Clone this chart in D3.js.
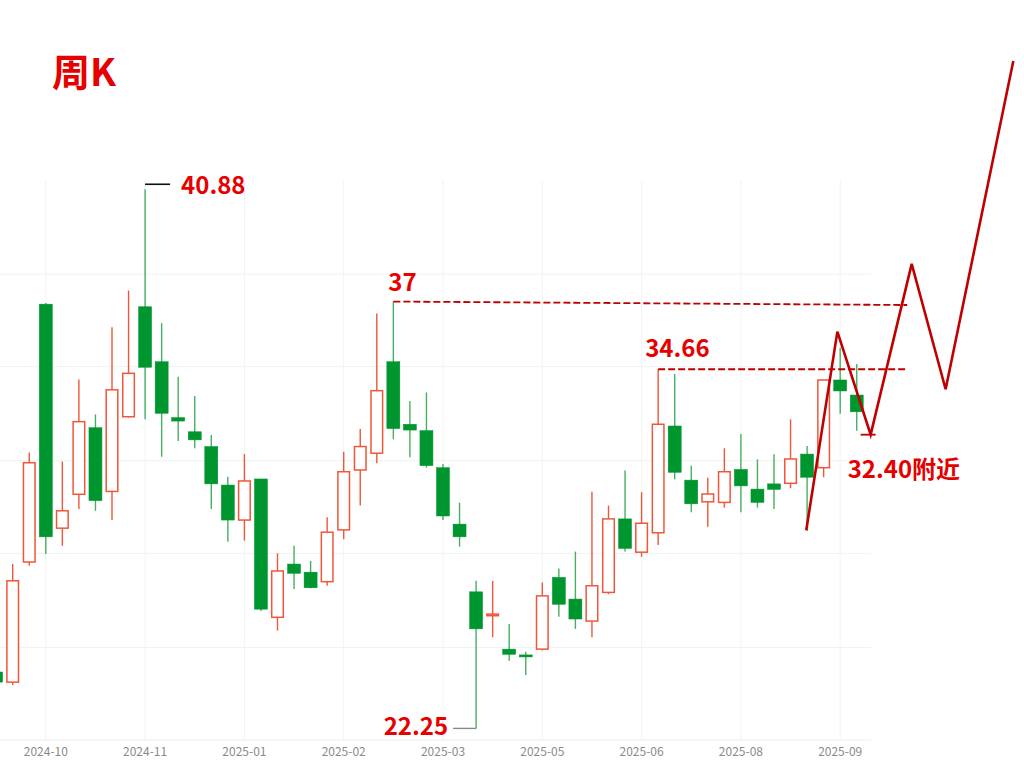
<!DOCTYPE html>
<html><head><meta charset="utf-8">
<script src="https://cdn.jsdelivr.net/npm/d3@7"></script>
<style>html,body{margin:0;padding:0;background:#fff;} svg{display:block;}</style>
</head><body><svg id="chart" width="1024" height="768"></svg>
<script>
// Weekly candles (index 0 is partly cut off at the left edge)
const opens  = [24.20,23.85,28.00,36.91,29.17,30.34,32.64,30.44,33.02,36.82,34.92,32.99,32.50,31.99,30.66,29.45,30.87,26.09,27.93,27.65,27.32,29.11,31.18,31.76,34.92,32.76,32.54,31.26,29.31,26.97,26.17,24.99,24.79,24.99,27.47,26.72,25.96,26.95,29.49,28.34,29.01,32.70,30.83,30.08,30.06,31.20,30.52,30.70,30.72,31.73,31.26,34.29,33.77];
const closes = [23.85,27.35,31.43,28.87,29.77,32.85,30.12,33.95,34.52,34.73,33.14,32.87,32.22,30.70,29.45,30.80,26.37,27.69,27.61,27.11,29.03,31.12,31.99,33.92,32.61,32.56,31.33,29.59,28.87,25.69,26.20,24.81,24.72,26.83,26.54,26.03,27.18,29.49,28.47,29.34,32.76,31.10,30.01,30.35,31.12,30.63,30.06,30.51,31.56,30.93,34.29,33.91,33.19];
const highs  = [24.34,27.93,31.78,36.95,31.47,34.31,33.10,36.11,37.38,40.88,36.25,34.40,33.74,32.39,30.95,31.73,30.87,28.30,28.56,28.04,29.55,31.81,32.60,36.59,37.00,33.56,33.86,31.39,30.05,27.35,27.35,25.86,24.90,27.29,27.78,28.36,30.43,29.95,31.16,30.41,34.66,34.50,31.33,30.91,31.93,32.42,31.55,31.72,32.93,32.01,34.29,35.40,34.84];
const lows   = [23.72,23.75,27.87,28.28,28.56,29.83,29.77,29.45,32.99,32.93,31.64,32.18,31.93,29.83,28.70,28.74,26.31,25.63,27.07,27.09,27.18,28.79,29.95,31.41,32.24,31.62,31.26,29.45,28.53,22.25,25.40,24.59,24.10,24.94,26.11,25.69,25.40,26.89,28.36,28.18,28.59,30.86,29.72,29.22,29.88,29.72,29.88,29.83,30.55,29.07,30.93,33.12,32.54];

const tickIndex  = [3, 9, 15, 21, 27, 33, 39, 45, 51];
const tickLabels = ["2024-10","2024-11","2025-01","2025-02","2025-03","2025-05","2025-06","2025-08","2025-09"];
const gridValues = [25.05, 28.3, 31.5, 34.75, 37.95];

// Hand-drawn projection (week index, price)
const projIndex = [48.95, 50.83, 52.84, 55.32, 57.37, 61.46];
const projPrice = [29.10, 35.96, 32.40, 38.30, 33.97, 45.31];

// Key levels
const highLabel = "40.88", highValue = 40.88, highIdx = 9;
const lowLabel = "22.25", lowValue = 22.25, lowIdx = 29;
const res1Label = "37", res1Value = 37, res1Idx = 24, res1EndIdx = 55.05, res1EndValue = 36.88;
const res2Label = "34.66", res2Value = 34.66, res2Idx = 40, res2EndIdx = 55.1;
const supLabel = "32.40附近", supValue = 32.40, supIdx = 52.84;
const title = "周K";

const svg = d3.select("#chart");
const plotTop = 180, plotBottom = 740, plotRight = 871;
const step = 16.55;
const r0 = -3.85 - step / 2;
const idx = d3.range(opens.length);

const x = d3.scaleBand().domain(idx).range([r0, r0 + step * idx.length])
  .paddingInner(0.215).paddingOuter(0.1075);
const bw = x.bandwidth();
const cx = i => x(i) + bw / 2;
const xLin = d3.scaleLinear().domain([0, idx.length - 1]).range([cx(0), cx(idx.length - 1)]);
const y = d3.scaleLinear().domain([21.85, 41.2]).range([plotBottom, plotTop]);

const RED = "#f0563a", GREEN = "#00962f", GREEN_W = "#45b062", DARK = "#c00000", TXT = "#e60000";
const CJK = "'Noto Sans CJK SC','Noto Sans',sans-serif";

// grid
svg.append("g").selectAll("line").data(gridValues).join("line")
  .attr("x1", 0).attr("x2", plotRight).attr("y1", d => y(d)).attr("y2", d => y(d))
  .attr("stroke", "#f1f1f1").attr("stroke-width", 1);
svg.append("g").selectAll("line").data(tickIndex).join("line")
  .attr("x1", d => cx(d)).attr("x2", d => cx(d)).attr("y1", plotTop).attr("y2", plotBottom)
  .attr("stroke", "#f3f3f3").attr("stroke-width", 1);

// x axis
const axis = d3.axisBottom(x).tickValues(tickIndex)
  .tickFormat(d => tickLabels[tickIndex.indexOf(d)]).tickSize(0).tickPadding(7);
const ax = svg.append("g").attr("transform", `translate(0,${plotBottom})`).call(axis);
ax.select(".domain").remove();
ax.append("line").attr("x1", 0).attr("x2", plotRight).attr("stroke", "#eeeeee");
ax.selectAll("text").attr("fill", "#8a8a8a").style("font-family", CJK).style("font-size", "12px");

// candles
const up = i => closes[i] >= opens[i];
const g = svg.append("g");
g.selectAll("line.wick").data(idx).join("line").attr("class", "wick")
  .attr("x1", cx).attr("x2", cx)
  .attr("y1", i => y(highs[i])).attr("y2", i => y(lows[i]))
  .attr("stroke", i => up(i) ? RED : GREEN_W).attr("stroke-width", 1.4);
g.selectAll("rect.body").data(idx).join("rect").attr("class", "body")
  .attr("x", i => x(i) + (up(i) ? 0.7 : 0))
  .attr("width", i => up(i) ? bw - 1.4 : bw)
  .attr("y", i => y(Math.max(opens[i], closes[i])))
  .attr("height", i => Math.max(1.6, Math.abs(y(opens[i]) - y(closes[i]))))
  .attr("fill", i => up(i) ? "#ffffff" : GREEN)
  .attr("stroke", i => up(i) ? RED : GREEN)
  .attr("stroke-width", i => up(i) ? 1.5 : 0.5);

// dashed resistance lines
svg.append("line").attr("x1", cx(res1Idx)).attr("y1", y(res1Value))
  .attr("x2", xLin(res1EndIdx)).attr("y2", y(res1EndValue))
  .attr("stroke", DARK).attr("stroke-width", 1.8).attr("stroke-dasharray", "7,3");
svg.append("line").attr("x1", cx(res2Idx)).attr("y1", y(res2Value))
  .attr("x2", xLin(res2EndIdx)).attr("y2", y(res2Value))
  .attr("stroke", DARK).attr("stroke-width", 1.8).attr("stroke-dasharray", "7,3");

// projection zigzag
const line = d3.line().x(d => xLin(d[0])).y(d => y(d[1]));
svg.append("path").datum(d3.zip(projIndex, projPrice)).attr("d", line)
  .attr("fill", "none").attr("stroke", DARK).attr("stroke-width", 2.6).attr("stroke-linejoin", "miter");
svg.append("line").attr("x1", xLin(supIdx) - 10).attr("x2", xLin(supIdx) + 5)
  .attr("y1", y(supValue)).attr("y2", y(supValue)).attr("stroke", DARK).attr("stroke-width", 1.8);

// high / low markers
svg.append("line").attr("x1", cx(highIdx)).attr("x2", cx(highIdx) + 25)
  .attr("y1", y(highValue) - 5).attr("y2", y(highValue) - 5).attr("stroke", "#111").attr("stroke-width", 1.6);
svg.append("line").attr("x1", cx(lowIdx) - 23).attr("x2", cx(lowIdx))
  .attr("y1", y(lowValue)).attr("y2", y(lowValue)).attr("stroke", "#888").attr("stroke-width", 1.4);

const label = (t, xx, yy, anchor) => svg.append("text").text(t).attr("x", xx).attr("y", yy)
  .attr("text-anchor", anchor || "start").attr("fill", TXT)
  .style("font-family", CJK).style("font-weight", "bold").style("font-size", "24px");
label(highLabel, cx(highIdx) + 36, y(highValue) + 5);
label(res1Label, cx(res1Idx) - 5, y(res1Value) - 11);
label(res2Label, cx(res2Idx) - 13, y(res2Value) - 12);
label(lowLabel, cx(lowIdx) - 28, y(lowValue) + 7, "end");
label(supLabel, xLin(supIdx) - 23, y(supValue) + 43);

svg.append("text").text(title).attr("x", 52).attr("y", 86).attr("fill", TXT)
  .style("font-family", CJK).style("font-weight", "bold").style("font-size", "38px");
</script></body></html>
